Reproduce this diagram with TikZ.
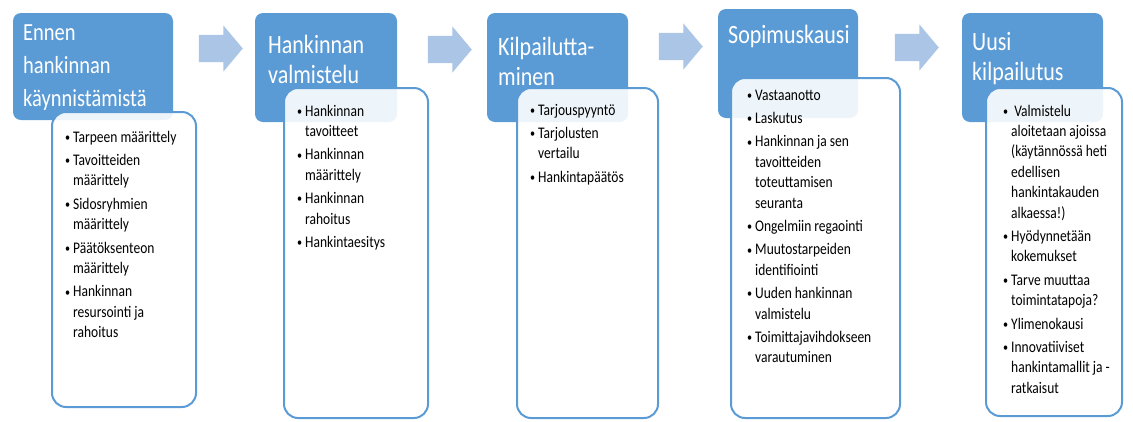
\documentclass[tikz,border=0pt]{standalone}
\usepackage{fontspec}
\setmainfont{Carlito}
\usepackage{graphicx}
\usetikzlibrary{shapes.arrows}

\definecolor{stepblue}{RGB}{91,155,213}
\definecolor{arrowblue}{RGB}{170,197,230}

% text is a bit taller than wide in the picture
\newcommand{\tallbox}[2]{\scalebox{1}[1.2]{\parbox[t]{#1}{#2}}}
\newcommand{\bitem}[1]{\par\noindent\hangindent=8pt\hangafter=1\makebox[8pt][l]{\raisebox{0.1ex}{\scalebox{0.75}{\textbullet}}}#1}

\tikzset{
    headbox/.style={fill=stepblue, rounded corners=8pt, inner sep=0pt},
    headtext/.style={anchor=base west, inner sep=0pt, text=white, font=\fontsize{22}{25}\selectfont},
    listbox/.style={draw=stepblue, line width=2pt, fill=white, fill opacity=0.9, rounded corners=14pt, inner sep=0pt},
    listtext/.style={anchor=base west, inner sep=0pt, font=\fontsize{13.5}{17}\selectfont},
    steparrow/.style={single arrow, fill=arrowblue, minimum height=44pt, inner xsep=0pt, inner ysep=13.5pt,
        single arrow head extend=9.5pt, single arrow tip angle=100}
}

\begin{document}
\begin{tikzpicture}[x=1pt, y=1pt]

    \useasboundingbox (0,0) rectangle (1133,-421);

    % ARROWS
    \node[steparrow] (arr1) at (215,-48.5) {};
    \node[steparrow] (arr2) at (444,-49.5) {};
    \node[steparrow] (arr3) at (675,-46.5) {};
    \node[steparrow] (arr4) at (911,-47.5) {};

    % ENNEN HANKINNAN KAYNNISTAMISTA
    \node[headbox, minimum width=160pt, minimum height=107pt] (head1) at (93,-66.5) {};
    \node[listbox, minimum width=144pt, minimum height=295pt] (list1) at (124,-259.5) {};
    \node[headtext, font=\fontsize{20.5}{27.5}\selectfont] (title1) at (23,-40)
        {\tallbox{150pt}{Ennen\\hankinnan\\käynnistämistä}};
    \node[listtext] (items1) at (65,-142) {\tallbox{150pt}{\setlength{\parskip}{2.5pt}%
        \bitem{Tarpeen määrittely}
        \bitem{Tavoitteiden\\määrittely}
        \bitem{Sidosryhmien\\määrittely}
        \bitem{Päätöksenteon\\määrittely}
        \bitem{Hankinnan\\resursointi ja\\rahoitus}}};

    % HANKINNAN VALMISTELU
    \node[headbox, minimum width=142pt, minimum height=109pt] (head2) at (326,-67.5) {};
    \node[listbox, minimum width=144pt, minimum height=330pt] (list2) at (356,-253) {};
    \node[headtext] (title2) at (268,-53)
        {\tallbox{150pt}{Hankinnan\\valmistelu}};
    \node[listtext] (items2) at (297,-116) {\tallbox{150pt}{\setlength{\parskip}{2.5pt}%
        \bitem{Hankinnan\\tavoitteet}
        \bitem{Hankinnan\\määrittely}
        \bitem{Hankinnan\\rahoitus}
        \bitem{Hankintaesitys}}};

    % KILPAILUTTAMINEN
    \node[headbox, minimum width=141pt, minimum height=109pt] (head3) at (557.5,-67.5) {};
    \node[listbox, minimum width=141pt, minimum height=330pt] (list3) at (587.5,-253) {};
    \node[headtext] (title3) at (498,-55)
        {\tallbox{150pt}{Kilpailutta-\\minen}};
    \node[listtext] (items3) at (530,-115) {\tallbox{150pt}{\setlength{\parskip}{2.5pt}%
        \bitem{Tarjouspyyntö}
        \bitem{Tarjolusten\\vertailu}
        \bitem{Hankintapäätös}}};

    % SOPIMUSKAUSI
    \node[headbox, minimum width=140pt, minimum height=109pt] (head4) at (788,-63.5) {};
    \node[listbox, minimum width=169pt, minimum height=340pt] (list4) at (815.5,-248) {};
    \node[headtext] (title4) at (728,-43)
        {\tallbox{150pt}{Sopimuskausi}};
    \node[listtext] (items4) at (747,-100) {\tallbox{170pt}{\setlength{\parskip}{2.5pt}%
        \bitem{Vastaanotto}
        \bitem{Laskutus}
        \bitem{Hankinnan ja sen\\tavoitteiden\\toteuttamisen\\seuranta}
        \bitem{Ongelmiin regaointi}
        \bitem{Muutostarpeiden\\identifiointi}
        \bitem{Uuden hankinnan\\valmistelu}
        \bitem{Toimittajavihdokseen\\varautuminen}}};

    % UUSI KILPAILUTUS
    \node[headbox, minimum width=141pt, minimum height=109pt] (head5) at (1032.5,-67.5) {};
    \node[listbox, minimum width=136pt, minimum height=328pt] (list5) at (1054,-252) {};
    \node[headtext] (title5) at (972,-50)
        {\tallbox{150pt}{Uusi\\kilpailutus}};
    \node[listtext] (items5) at (1003,-116) {\tallbox{150pt}{\setlength{\parskip}{2.5pt}%
        \bitem{\ Valmistelu\\aloitetaan ajoissa\\(käytännössä heti\\edellisen\\hankintakauden\\alkaessa!)}
        \bitem{Hyödynnetään\\kokemukset}
        \bitem{Tarve muuttaa\\toimintatapoja?}
        \bitem{Ylimenokausi}
        \bitem{Innovatiiviset\\hankintamallit ja -\\ratkaisut}}};

\end{tikzpicture}
\end{document}
